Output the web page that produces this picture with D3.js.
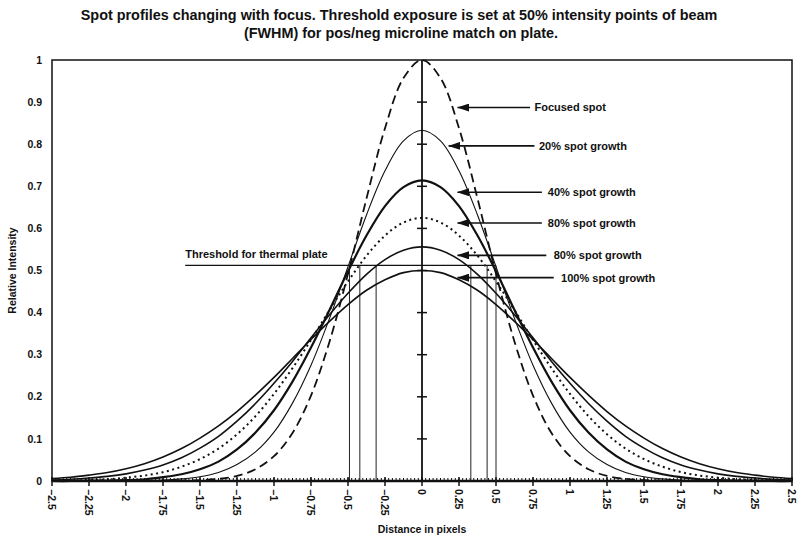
<!DOCTYPE html>
<html lang="en">
<head>
<meta charset="UTF-8">
<title>Spot profiles changing with focus</title>
<script src="https://d3js.org/d3.v7.min.js"></script>
<style>
    body { margin: 0; background: #fff; }
    text { font-family: "Liberation Sans", Arial, sans-serif; font-weight: bold; fill: #111; }
</style>
</head>
<body>
<svg class="chart"></svg>
<script>
    // Data: x positions every 0.125 pixel, one intensity array per profile
    const xs = d3.range(41).map(i => -2.5 + i * 0.125);

    const focused = [0, 0, 0, 0, 0, 0, 0, .001, .002, .005, .012, .028, .059, .114, .203, .331, .492, .671, .838, .957,
        1, .957, .838, .671, .492, .331, .203, .114, .059, .028, .012, .005, .002, .001, 0, 0, 0, 0, 0, 0, 0];
    const growth20 = [0, 0, 0, 0, 0, .001, .002, .005, .010, .020, .039, .069, .116, .185, .275, .386, .509, .632, .737, .808,
        .833, .808, .737, .632, .509, .386, .275, .185, .116, .069, .039, .020, .010, .005, .002, .001, 0, 0, 0, 0, 0];
    const growth40 = [0, 0, .001, .001, .002, .004, .009, .016, .028, .046, .075, .115, .168, .236, .317, .406, .498, .583, .653, .698,
        .714, .698, .653, .583, .498, .406, .317, .236, .168, .115, .075, .046, .028, .016, .009, .004, .002, .001, .001, 0, 0];
    const growth60 = [.001, .001, .002, .004, .008, .013, .021, .034, .052, .077, .111, .154, .207, .268, .335, .406, .474, .535, .583, .614,
        .625, .614, .583, .535, .474, .406, .335, .268, .207, .154, .111, .077, .052, .034, .021, .013, .008, .004, .002, .001, .001];
    const growth80 = [.002, .004, .007, .011, .017, .026, .038, .055, .078, .106, .142, .184, .232, .284, .340, .395, .446, .491, .526, .548,
        .556, .548, .526, .491, .446, .395, .340, .284, .232, .184, .142, .106, .078, .055, .038, .026, .017, .011, .007, .004, .002];
    const growth100 = [.006, .009, .014, .020, .029, .041, .057, .077, .102, .131, .165, .204, .246, .291, .336, .379, .419, .453, .478, .495,
        .5, .495, .478, .453, .419, .379, .336, .291, .246, .204, .165, .131, .102, .077, .057, .041, .029, .020, .014, .009, .006];

    const seriesNames = ["Focused spot", "20% spot growth", "40% spot growth", "80% spot growth", "80% spot growth", "100% spot growth"];
    const seriesValues = [focused, growth20, growth40, growth60, growth80, growth100];

    // label positions (x of arrow tip, y of arrow, x of label) in data units
    const arrowTipX = [0.24, 0.18, 0.24, 0.24, 0.24, 0.24];
    const arrowY = [0.887, 0.796, 0.686, 0.613, 0.536, 0.483];
    const arrowEndX = [0.73, 0.76, 0.81, 0.81, 0.84, 0.89];
    const labelX = [0.76, 0.79, 0.85, 0.85, 0.89, 0.94];

    const thresholdLevel = 0.512;
    const thresholdSpan = [-1.6, 0.5];
    const cutoffs = [-0.49, -0.42, -0.31, 0.33, 0.44, 0.50];

    const xTicks = d3.range(21).map(i => -2.5 + i * 0.25);
    const yTicks = d3.range(11).map(i => i / 10);

    const width = 798, height = 538;
    const margin = { top: 60, right: 6, bottom: 57, left: 52 };

    const svg = d3.select(".chart").attr("width", width).attr("height", height);

    const x = d3.scaleLinear().domain([-2.5, 2.5]).range([margin.left, width - margin.right]);
    const y = d3.scaleLinear().domain([0, 1]).range([height - margin.bottom, margin.top]);

    // Title
    svg.append("text").attr("x", 399).attr("y", 20).attr("text-anchor", "middle").attr("font-size", "14.4px")
        .text("Spot profiles changing with focus. Threshold exposure is set at 50% intensity points of beam");
    svg.append("text").attr("x", 401).attr("y", 38).attr("text-anchor", "middle").attr("font-size", "14.4px")
        .text("(FWHM) for pos/neg microline match on plate.");

    // Plot frame
    svg.append("rect")
        .attr("x", x(-2.5)).attr("y", y(1))
        .attr("width", x(2.5) - x(-2.5)).attr("height", y(0) - y(1))
        .attr("fill", "none").attr("stroke", "#111").attr("stroke-width", 1.5);

    // Bottom axis: minor ticks every 0.025, major every 0.25
    const minorTicks = d3.range(201).map(i => -2.5 + i * 0.025);
    svg.selectAll(".minor").data(minorTicks).join("line")
        .attr("x1", d => x(d)).attr("x2", d => x(d))
        .attr("y1", y(0) - 3).attr("y2", y(0))
        .attr("stroke", "#111").attr("stroke-width", 1);
    svg.selectAll(".major").data(xTicks).join("line")
        .attr("x1", d => x(d)).attr("x2", d => x(d))
        .attr("y1", y(0) - 4).attr("y2", y(0) + 5)
        .attr("stroke", "#111").attr("stroke-width", 1.5);
    svg.append("line")
        .attr("x1", x(-2.5)).attr("x2", x(2.5)).attr("y1", y(0)).attr("y2", y(0))
        .attr("stroke", "#111").attr("stroke-width", 2.5);

    svg.selectAll(".xlabel").data(xTicks).join("text")
        .attr("transform", d => `translate(${x(d)},${y(0) + 8}) rotate(90)`)
        .attr("dy", "0.35em")
        .attr("font-size", "10.5px")
        .text(d => d3.format("")(+d.toFixed(2)));

    // Left labels
    svg.selectAll(".ylabel").data(yTicks).join("text")
        .attr("x", 42).attr("y", d => y(d)).attr("dy", "0.35em")
        .attr("text-anchor", "end").attr("font-size", "10.5px")
        .text(d => d3.format("")(+d.toFixed(1)));

    // Center value axis with cross ticks
    svg.append("line")
        .attr("x1", x(0)).attr("x2", x(0)).attr("y1", y(1)).attr("y2", y(0))
        .attr("stroke", "#111").attr("stroke-width", 1.8);
    svg.selectAll(".ytick").data(yTicks.slice(1, 10)).join("line")
        .attr("x1", x(0) - 5).attr("x2", x(0) + 5)
        .attr("y1", d => y(d)).attr("y2", d => y(d))
        .attr("stroke", "#111").attr("stroke-width", 1.5);

    // Axis titles
    svg.append("text")
        .attr("transform", `translate(16,${y(0.5)}) rotate(-90)`)
        .attr("text-anchor", "middle").attr("font-size", "10.5px")
        .text("Relative Intensity");
    svg.append("text").attr("x", x(0)).attr("y", 533)
        .attr("text-anchor", "middle").attr("font-size", "10.5px")
        .text("Distance in pixels");

    // Threshold line and cut-off verticals
    svg.append("line")
        .attr("x1", x(thresholdSpan[0])).attr("x2", x(thresholdSpan[1]))
        .attr("y1", y(thresholdLevel)).attr("y2", y(thresholdLevel))
        .attr("stroke", "#111").attr("stroke-width", 1.3);
    svg.append("text").attr("x", x(thresholdSpan[0])).attr("y", y(thresholdLevel) - 7)
        .attr("font-size", "11px").text("Threshold for thermal plate");
    svg.selectAll(".cut").data(cutoffs).join("line")
        .attr("x1", d => x(d)).attr("x2", d => x(d))
        .attr("y1", y(thresholdLevel)).attr("y2", y(0))
        .attr("stroke", "#222").attr("stroke-width", 1);

    // Profiles
    const styles = [
        { w: 1.8, dash: "9,5" },
        { w: 1.1, dash: null },
        { w: 2.2, dash: null },
        { w: 2, dash: "2,3.5" },
        { w: 1.6, dash: null },
        { w: 1.6, dash: null }
    ];
    const line = d3.line()
        .x((d, i) => x(xs[i]))
        .y(d => y(d))
        .curve(d3.curveCatmullRom);

    svg.selectAll(".profile").data(seriesValues).join("path")
        .attr("d", d => line(d))
        .attr("fill", "none")
        .attr("stroke", "#111")
        .attr("stroke-width", (d, i) => styles[i].w)
        .attr("stroke-dasharray", (d, i) => styles[i].dash);

    // Arrow labels
    svg.append("defs").append("marker")
        .attr("id", "head").attr("viewBox", "0 0 12 8")
        .attr("refX", 0.5).attr("refY", 4)
        .attr("markerWidth", 12).attr("markerHeight", 8)
        .attr("markerUnits", "userSpaceOnUse")
        .attr("orient", "auto")
        .append("path").attr("d", "M0,4 L12,0 L12,8 Z").attr("fill", "#111");

    seriesNames.forEach((name, i) => {
        svg.append("line")
            .attr("x1", x(arrowTipX[i])).attr("x2", x(arrowEndX[i]))
            .attr("y1", y(arrowY[i])).attr("y2", y(arrowY[i]))
            .attr("stroke", "#111").attr("stroke-width", 1.6)
            .attr("marker-start", "url(#head)");
        svg.append("text")
            .attr("x", x(labelX[i])).attr("y", y(arrowY[i])).attr("dy", "0.35em")
            .attr("font-size", "11px").text(name);
    });
</script>
</body>
</html>
